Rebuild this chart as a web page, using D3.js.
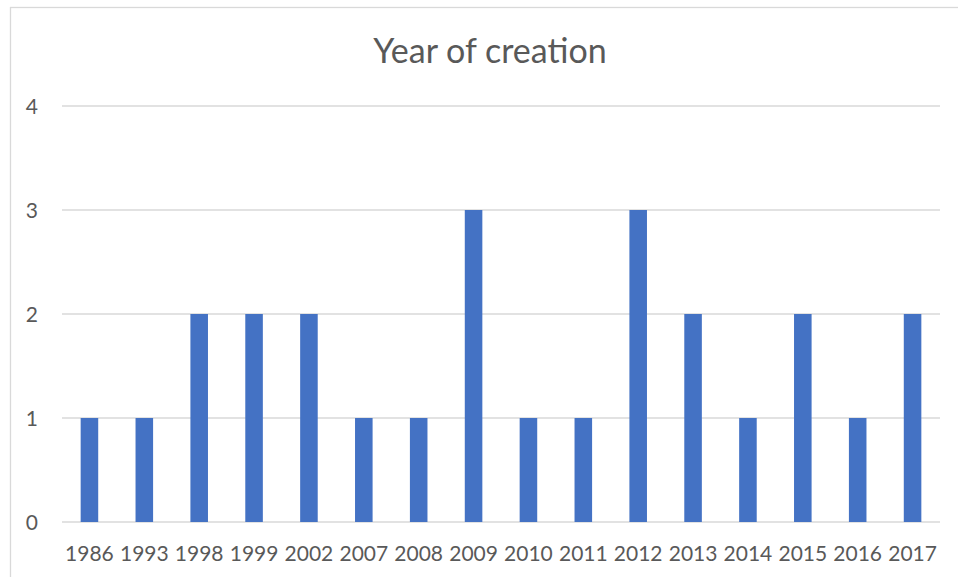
<!DOCTYPE html>
<html>
<head>
<meta charset="utf-8">
<title>Year of creation</title>
<script src="https://cdn.jsdelivr.net/npm/d3@7"></script>
<style>
  html, body { margin: 0; background: #fff; }
  body { font-family: Lato, "Open Sans", sans-serif; }
  .grid line { stroke: #d9d9d9; stroke-width: 1.3px; }
  .tick text { fill: #595959; font-family: Lato, "Open Sans", sans-serif; }
</style>
</head>
<body>
<svg width="958" height="577"></svg>
<script>
// data
var years  = ["1986","1993","1998","1999","2002","2007","2008","2009","2010","2011","2012","2013","2014","2015","2016","2017"];
var counts = [1, 1, 2, 2, 2, 1, 1, 3, 1, 1, 3, 2, 1, 2, 1, 2];
var yTicks = [0, 1, 2, 3, 4];

var svg = d3.select("svg");

// chart frame
svg.append("rect")
    .attr("x", 10.5).attr("y", 7.5)
    .attr("width", 960).attr("height", 600)
    .attr("fill", "#fff")
    .attr("stroke", "#d9d9d9")
    .attr("stroke-width", 1.3);

var margin = {top: 106, right: 18, bottom: 55, left: 62},
    width = 940 - margin.left,
    height = 522 - margin.top;

var g = svg.append("g").attr("transform", "translate(" + margin.left + "," + margin.top + ")");

var x = d3.scaleBand().domain(years).range([0, width]).paddingInner(0.68).paddingOuter(0.34);
var y = d3.scaleLinear().domain([0, 4]).range([height, 0]);

// gridlines
g.append("g")
    .attr("class", "grid")
  .selectAll("line")
  .data(yTicks)
  .enter().append("line")
    .attr("x1", 0).attr("x2", width)
    .attr("y1", function(d) { return y(d); })
    .attr("y2", function(d) { return y(d); });

// bars
g.selectAll(".bar")
  .data(counts)
  .enter().append("rect")
    .attr("class", "bar")
    .attr("x", function(d, i) { return x(years[i]); })
    .attr("width", x.bandwidth())
    .attr("y", function(d) { return y(d); })
    .attr("height", function(d) { return height - y(d); })
    .attr("fill", "#4472c4");

// y axis labels
var yAxis = g.append("g")
    .call(d3.axisLeft(y).tickValues(yTicks).tickSize(0).tickPadding(24).tickFormat(d3.format("d")));
yAxis.select(".domain").remove();
yAxis.selectAll("text").style("font-size", "21px").attr("dy", "0.36em");

// x axis labels
var xAxis = g.append("g")
    .attr("transform", "translate(0," + height + ")")
    .call(d3.axisBottom(x).tickSize(0));
xAxis.select(".domain").remove();
xAxis.selectAll("text").style("font-size", "21px").attr("y", 39).attr("dy", 0);

// title
svg.append("text")
    .attr("x", 490).attr("y", 63)
    .attr("text-anchor", "middle")
    .attr("fill", "#595959")
    .style("font-size", "34px")
    .text("Year of creation");
</script>
</body>
</html>
